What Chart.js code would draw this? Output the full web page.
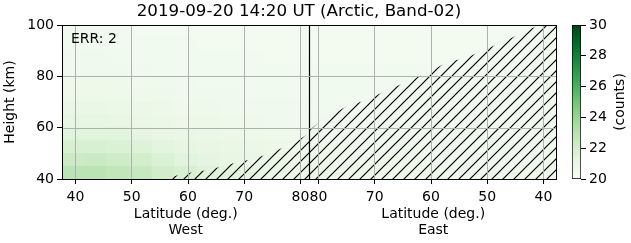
<!DOCTYPE html>
<html>
<head>
<meta charset="utf-8">
<script src="https://cdn.jsdelivr.net/npm/chart.js@4.4.0/dist/chart.umd.min.js"></script>
<style>
  html, body { margin: 0; padding: 0; background: #fff; }
  #wrap { position: relative; width: 631px; height: 243px; }
  #wrap canvas { position: absolute; left: 0; top: 0; }
</style>
</head>
<body>
<div id="wrap">
  <canvas id="main" width="631" height="243"></canvas>
  <canvas id="cbar" width="631" height="243"></canvas>
</div>
<script>
// ---- data ----
// column centre latitudes (both West and East passes)
const colLat = [39.6, 43.6, 47.6, 51.6, 55.6, 59.6, 63.6, 67.6, 71.6, 75.6, 79.6];
// height bin edges (km)
const heightEdges = [40, 45, 50, 55, 60, 65, 70, 75, 80, 85, 90, 95, 100];

// counts, one row per height bin (bottom to top), columns in colLat order
const countsWest = [
  [22.9, 22.9, 22.7, 22.5, 22.1, 21.8, 21.5, 21.3, 21.1, 20.9, 20.8],
  [22.3, 22.4, 22.2, 22.0, 21.7, 21.4, 21.2, 21.0, 20.9, 20.8, 20.7],
  [21.8, 21.8, 21.7, 21.6, 21.3, 21.1, 21.0, 20.9, 20.8, 20.7, 20.6],
  [21.4, 21.4, 21.4, 21.2, 21.0, 20.9, 20.8, 20.7, 20.7, 20.6, 20.6],
  [21.1, 21.1, 21.0, 20.9, 20.8, 20.7, 20.7, 20.6, 20.6, 20.5, 20.5],
  [20.9, 20.9, 20.8, 20.8, 20.7, 20.6, 20.6, 20.5, 20.5, 20.5, 20.5],
  [20.7, 20.7, 20.7, 20.6, 20.6, 20.5, 20.5, 20.5, 20.4, 20.4, 20.4],
  [20.6, 20.6, 20.6, 20.5, 20.5, 20.5, 20.4, 20.4, 20.4, 20.4, 20.4],
  [20.5, 20.5, 20.5, 20.5, 20.4, 20.4, 20.4, 20.4, 20.4, 20.4, 20.4],
  [20.5, 20.5, 20.4, 20.4, 20.4, 20.4, 20.4, 20.4, 20.4, 20.3, 20.3],
  [20.4, 20.4, 20.4, 20.4, 20.4, 20.4, 20.3, 20.3, 20.3, 20.3, 20.3],
  [20.4, 20.4, 20.4, 20.3, 20.3, 20.3, 20.3, 20.3, 20.3, 20.3, 20.3]
];
const countsEast = [
  [20.6, 20.6, 20.6, 20.6, 20.6, 20.6, 20.6, 20.6, 20.7, 20.7, 20.8],
  [20.5, 20.5, 20.5, 20.5, 20.5, 20.5, 20.6, 20.6, 20.6, 20.6, 20.7],
  [20.5, 20.5, 20.5, 20.5, 20.5, 20.5, 20.5, 20.5, 20.5, 20.6, 20.6],
  [20.4, 20.4, 20.4, 20.5, 20.5, 20.5, 20.5, 20.5, 20.5, 20.5, 20.5],
  [20.4, 20.4, 20.4, 20.4, 20.4, 20.4, 20.4, 20.4, 20.4, 20.5, 20.5],
  [20.4, 20.4, 20.4, 20.4, 20.4, 20.4, 20.4, 20.4, 20.4, 20.4, 20.4],
  [20.4, 20.4, 20.4, 20.4, 20.4, 20.4, 20.4, 20.4, 20.4, 20.4, 20.4],
  [20.3, 20.3, 20.4, 20.4, 20.4, 20.4, 20.4, 20.4, 20.4, 20.4, 20.4],
  [20.3, 20.3, 20.3, 20.3, 20.3, 20.4, 20.4, 20.4, 20.4, 20.4, 20.4],
  [20.3, 20.3, 20.3, 20.3, 20.3, 20.3, 20.3, 20.3, 20.3, 20.3, 20.3],
  [20.3, 20.3, 20.3, 20.3, 20.3, 20.3, 20.3, 20.3, 20.3, 20.3, 20.3],
  [20.3, 20.3, 20.3, 20.3, 20.3, 20.3, 20.3, 20.3, 20.3, 20.3, 20.3]
];

// top of the no-data (hatched) region
const maskLatWest = [55.9, 58.9, 63.6, 68.9, 71.6, 74.2, 77.6, 79.9, 81.6];
const maskTopWest = [40.0, 41.9, 43.5, 46.6, 47.8, 49.7, 52.9, 55.5, 58.0];
const maskLatEast = [81.6, 79.7, 74.9, 71.4, 67.8, 64.3, 60.5, 57.0, 53.8, 50.6, 46.6, 43.2, 40.6, 37.6];
const maskTopEast = [59.0, 62.5, 68.4, 70.8, 74.7, 77.8, 81.7, 85.6, 87.1, 90.3, 94.0, 97.8, 100, 100];

const tickLat = [40, 50, 60, 70, 80];
const heightTicks = [40, 60, 80, 100];
const countTicks = [20, 22, 24, 26, 28, 30];
const countRange = [20, 30];

const titleText = '2019-09-20 14:20 UT (Arctic, Band-02)';
const errText = 'ERR: 2';

// ---- track axis: West pass 37.6 -> 81.6, then East pass 81.6 -> 37.6 ----
const LAT_START = 37.6;
const LAT_TURN = 81.6;
const U_TURN = LAT_TURN - LAT_START;
const U_MAX = 2 * U_TURN;
const uWest = lat => lat - LAT_START;
const uEast = lat => U_MAX - (lat - LAT_START);
const latOfU = u => (u <= U_TURN ? u + LAT_START : U_MAX - u + LAT_START);

// matplotlib Greens
const greenStops = [
  [247, 252, 245], [229, 245, 224], [199, 233, 192], [161, 217, 155], [116, 196, 118],
  [65, 171, 93], [35, 139, 69], [0, 109, 44], [0, 68, 27]
];
const greens = (v) => {
  let t = (v - countRange[0]) / (countRange[1] - countRange[0]);
  t = Math.max(0, Math.min(1, t)) * (greenStops.length - 1);
  const i = Math.min(Math.floor(t), greenStops.length - 2);
  const f = t - i;
  const a = greenStops[i], b = greenStops[i + 1];
  const c = a.map((x, k) => Math.round(x + (b[k] - x) * f));
  return `rgb(${c[0]},${c[1]},${c[2]})`;
};

const makeHatch = (ctx) => {
  const s = 11;
  const c = document.createElement('canvas');
  c.width = s; c.height = s;
  const g = c.getContext('2d');
  g.strokeStyle = '#000';
  g.lineWidth = 1.2;
  g.beginPath();
  g.moveTo(-1, s + 1); g.lineTo(s + 1, -1);
  g.moveTo(-2, 2); g.lineTo(2, -2);
  g.moveTo(s - 2, s + 2); g.lineTo(s + 2, s - 2);
  g.stroke();
  return ctx.createPattern(c, 'repeat');
};

Chart.defaults.font.family = "'DejaVu Sans', sans-serif";
Chart.defaults.font.size = 14;
Chart.defaults.color = '#000';

// ---- main panel ----
const mainCanvas = document.getElementById('main');
const mainCtx = mainCanvas.getContext('2d');

const heatSets = heightEdges.slice(0, -1).map((h0, r) => ({
  type: 'bar',
  order: 3,
  grouped: false,
  barPercentage: 1,
  categoryPercentage: 1,
  borderWidth: 0,
  data: colLat.map((lat, i) => ({ x: uWest(lat), y: [h0, heightEdges[r + 1]], v: countsWest[r][i] }))
    .concat(colLat.map((lat, i) => ({ x: uEast(lat), y: [h0, heightEdges[r + 1]], v: countsEast[r][i] })).reverse()),
  backgroundColor: ctx => greens(ctx.raw ? ctx.raw.v : 20)
}));

const maskPoints = maskLatWest.map((lat, i) => ({ x: uWest(lat), y: maskTopWest[i] }))
  .concat(maskLatEast.map((lat, i) => ({ x: uEast(lat), y: maskTopEast[i] })));

const GRID_COLOR = '#b0b0b0';
const gridStyle = { z: 1, offset: false, color: GRID_COLOR, lineWidth: 1, tickColor: '#000', tickLength: 5 };

// height grid lines on top of the image (the bars otherwise hide them)
const heightGridPlugin = {
  id: 'heightGrid',
  afterDatasetsDraw(chart) {
    const { ctx, chartArea: a, scales } = chart;
    ctx.save();
    ctx.strokeStyle = GRID_COLOR;
    ctx.lineWidth = 1;
    heightTicks.slice(1, -1).forEach(h => {
      const y = Math.round(scales.y.getPixelForValue(h)) + 0.5;
      ctx.beginPath();
      ctx.moveTo(a.left, y);
      ctx.lineTo(a.right, y);
      ctx.stroke();
    });
    ctx.restore();
  }
};

const textPlugin = {
  id: 'texts',
  afterDraw(chart) {
    const { ctx, chartArea: a, scales } = chart;
    ctx.save();
    // frame
    ctx.strokeStyle = '#000';
    ctx.lineWidth = 1;
    ctx.strokeRect(a.left + 0.5, a.top + 0.5, a.right - a.left - 1, a.bottom - a.top);
    ctx.fillStyle = '#000';
    ctx.textBaseline = 'middle';
    // title
    ctx.font = "16.7px 'DejaVu Sans'";
    ctx.textAlign = 'center';
    ctx.fillText(titleText, 299, 12);
    // ERR label
    ctx.font = "14px 'DejaVu Sans'";
    ctx.textAlign = 'left';
    ctx.fillText(errText, a.left + 9, a.top + 14);
    // axis titles under each pass
    const xs = scales.x;
    const cW = (xs.getPixelForValue(0) + xs.getPixelForValue(U_TURN)) / 2;
    const cE = (xs.getPixelForValue(U_TURN) + xs.getPixelForValue(U_MAX)) / 2;
    ctx.textAlign = 'center';
    ctx.fillText('Latitude (deg.)', cW, 214);
    ctx.fillText('West', cW, 230);
    ctx.fillText('Latitude (deg.)', cE, 214);
    ctx.fillText('East', cE, 230);
    ctx.restore();
  }
};

new Chart(mainCtx, {
  type: 'bar',
  data: {
    datasets: [
      ...heatSets,
      {
        type: 'line',
        order: 2,
        data: maskPoints,
        borderWidth: 0,
        pointRadius: 0,
        tension: 0,
        fill: 'start',
        backgroundColor: makeHatch(mainCtx)
      },
      {
        type: 'line',
        order: 1,
        data: [{ x: U_TURN, y: 40 }, { x: U_TURN, y: 100 }],
        borderColor: '#000',
        borderWidth: 1.2,
        pointRadius: 0,
        fill: false
      }
    ]
  },
  options: {
    responsive: false,
    animation: false,
    events: [],
    layout: { padding: { left: 0, right: 74, top: 25, bottom: 0 } },
    plugins: { legend: { display: false }, tooltip: { enabled: false } },
    scales: {
      // data axis (hidden), so the close 80/80 ticks do not narrow the cells
      x: {
        type: 'linear',
        display: false,
        min: 0,
        max: U_MAX,
        offset: false,
        afterBuildTicks: axis => { axis.ticks = [{ value: 0 }, { value: U_MAX }]; }
      },
      // visible latitude axis
      xt: {
        type: 'linear',
        position: 'bottom',
        min: 0,
        max: U_MAX,
        offset: false,
        afterBuildTicks: axis => {
          axis.ticks = tickLat.map(l => ({ value: uWest(l) }))
            .concat(tickLat.slice().reverse().map(l => ({ value: uEast(l) })));
        },
        afterFit: axis => { axis.height = 64; },
        ticks: {
          autoSkip: false,
          maxRotation: 0,
          padding: 5,
          callback: v => String(Math.round(latOfU(v)))
        },
        grid: gridStyle,
        border: { display: false }
      },
      y: {
        type: 'linear',
        min: heightTicks[0],
        max: heightTicks[heightTicks.length - 1],
        afterBuildTicks: axis => { axis.ticks = heightTicks.map(v => ({ value: v })); },
        afterFit: axis => { axis.width = 62; },
        ticks: { padding: 3 },
        grid: { ...gridStyle, drawOnChartArea: false },
        border: { display: false },
        title: { display: true, text: 'Height (km)', padding: { top: 2, bottom: 0 } }
      }
    }
  },
  plugins: [heightGridPlugin, textPlugin]
});

// ---- colour bar ----
const cbarPlugin = {
  id: 'cbarLabel',
  afterDraw(chart) {
    const { ctx, chartArea: a } = chart;
    ctx.save();
    ctx.fillStyle = '#000';
    ctx.font = "14px 'DejaVu Sans'";
    ctx.textAlign = 'center';
    ctx.textBaseline = 'middle';
    ctx.translate(620, (a.top + a.bottom) / 2);
    ctx.rotate(-Math.PI / 2);
    ctx.fillText('(counts)', 0, 0);
    ctx.restore();
  }
};

new Chart(document.getElementById('cbar'), {
  type: 'bar',
  data: {
    labels: [''],
    datasets: [{
      data: [countRange],
      barPercentage: 1,
      categoryPercentage: 1,
      borderColor: '#000',
      borderWidth: 1,
      borderSkipped: false,
      backgroundColor: ctx => {
        const a = ctx.chart.chartArea;
        if (!a) return greens(20);
        const g = ctx.chart.ctx.createLinearGradient(0, a.bottom, 0, a.top);
        greenStops.forEach((c, i) => g.addColorStop(i / (greenStops.length - 1), `rgb(${c[0]},${c[1]},${c[2]})`));
        return g;
      }
    }]
  },
  options: {
    responsive: false,
    animation: false,
    events: [],
    layout: { padding: { left: 572, right: 0, top: 25, bottom: 64 } },
    plugins: { legend: { display: false }, tooltip: { enabled: false } },
    scales: {
      x: { display: false },
      y: {
        position: 'right',
        min: countRange[0],
        max: countRange[1],
        afterBuildTicks: axis => { axis.ticks = countTicks.map(v => ({ value: v })); },
        afterFit: axis => { axis.width = 50; },
        ticks: { padding: 3 },
        grid: { drawOnChartArea: false, tickColor: '#000', tickLength: 5 },
        border: { display: false }
      }
    }
  },
  plugins: [cbarPlugin]
});
</script>
</body>
</html>
